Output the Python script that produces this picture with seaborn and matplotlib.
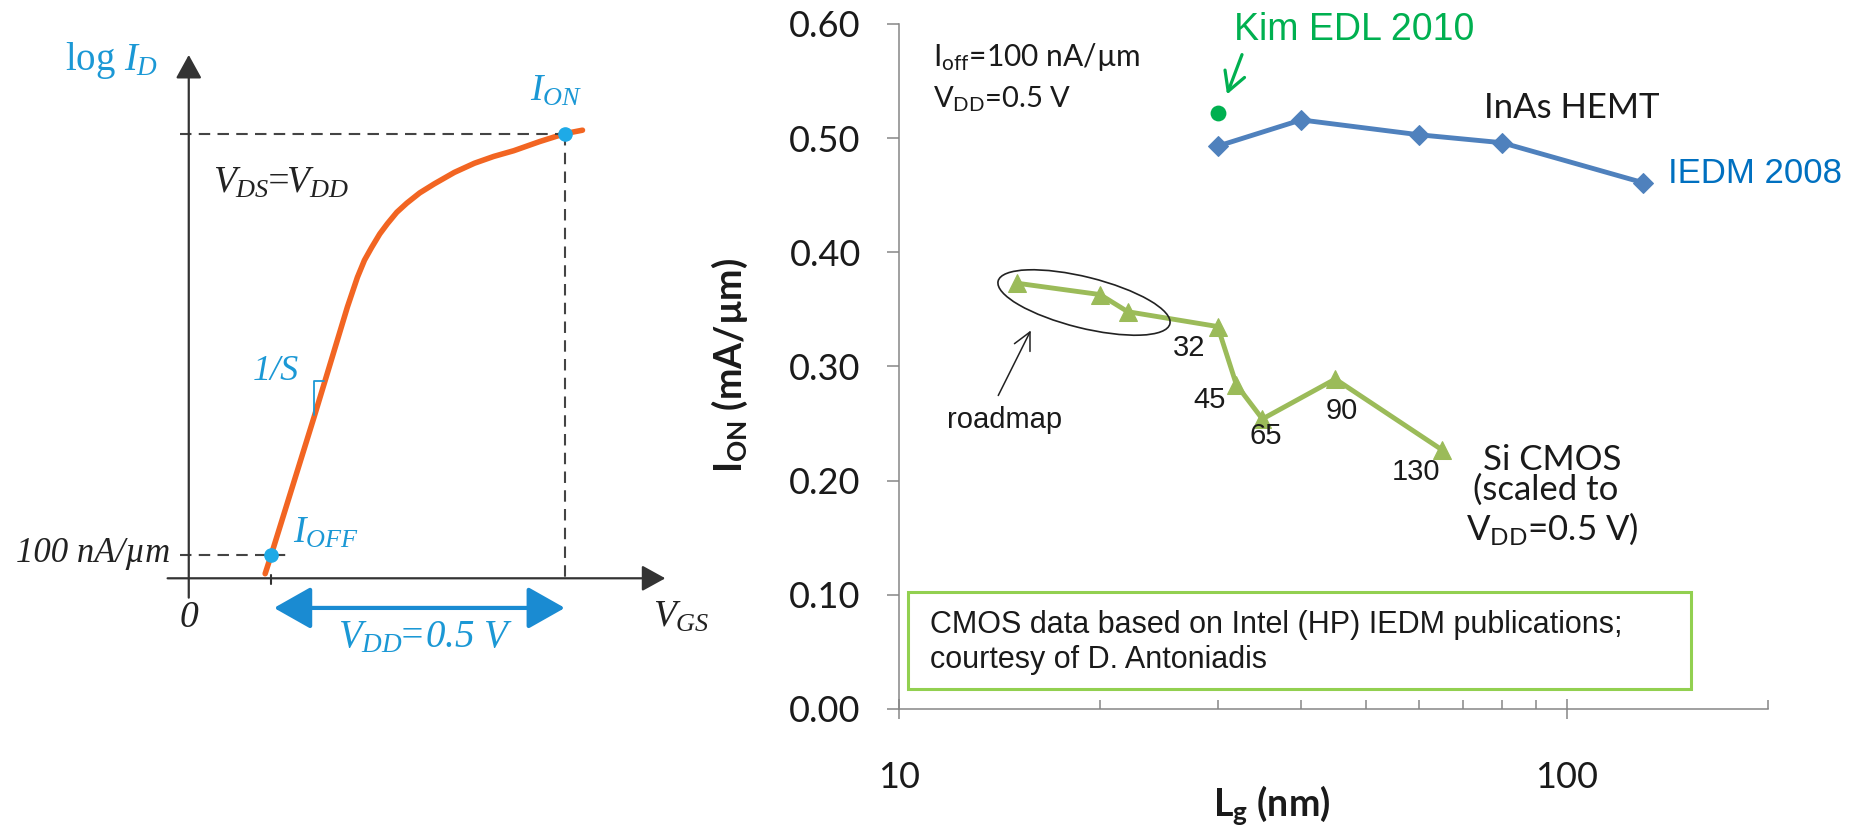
import numpy as np
import seaborn as sns
import matplotlib.pyplot as plt
from matplotlib.patches import Ellipse, Rectangle, FancyArrowPatch
from matplotlib.transforms import IdentityTransform
from matplotlib.ticker import FixedLocator, LogLocator, NullFormatter, FormatStrFormatter, FuncFormatter

# left panel: schematic transfer curve, V_GS (V) against log10 I_D (A/um)
vgs = [0.13, 0.14, 0.213, 0.27, 0.287, 0.299, 0.311, 0.325, 0.338, 0.354, 0.371, 0.393,
       0.418, 0.452, 0.486, 0.519, 0.553, 0.597, 0.64, 0.67]
log_id = [-7.16, -7.0, -5.79, -4.82, -4.56, -4.41, -4.30, -4.18, -4.09, -3.99, -3.91, -3.82,
          -3.74, -3.64, -3.56, -3.50, -3.45, -3.37, -3.3, -3.27]
v_off, v_on = 0.14, 0.64
log_off, log_on = -7.0, -3.3
axis_log = -7.2

# right panel: I_ON (mA/um) against gate length (nm)
hemt_lg = [30, 40, 60, 80, 130]
hemt_ion = [0.493, 0.516, 0.503, 0.496, 0.461]
cmos_lg = [15, 20, 22, 30, 32, 35, 45, 65]
cmos_ion = [0.373, 0.363, 0.348, 0.335, 0.284, 0.254, 0.289, 0.227]
cmos_node = ['', '', '', '32', '45', '65', '90', '130']
node_offset = [(0, 0), (0, 0), (0, 0), (-29, -21), (-27, -15), (3, -17), (6, -32), (-26, -22)]
kim_lg = [30]
kim_ion = [0.522]

W, H = 1870, 831


def fp(x, y):
    # pixel position measured from the top left -> figure fraction
    return x / W, 1 - y / H


sns.set_style('ticks')
plt.rcParams['font.family'] = ['Lato', 'DejaVu Sans']
# math text in the schematic is all italic serif (digits included)
plt.rcParams['mathtext.fontset'] = 'custom'
plt.rcParams['mathtext.rm'] = 'Liberation Serif:italic'
plt.rcParams['mathtext.it'] = 'Liberation Serif:italic'
plt.rcParams['mathtext.bf'] = 'Liberation Serif:bold'

fig = plt.figure(figsize=(W / 100, H / 100), dpi=100)

# ---------------- left schematic ----------------
BLUE_T = '#1b98d5'
SERIF = 'Liberation Serif'
axL = fig.add_axes([130 / W, 1 - 641 / H, 570 / W, 610 / H])
sns.lineplot(x=vgs, y=log_id, ax=axL, color='#F26522', lw=4, estimator=None, sort=False)
axL.set_xlim(-0.1, 0.87)
axL.set_ylim(-7.75, -2.4)
axL.axis('off')

ax_kw = dict(arrowstyle='-|>,head_length=1.45,head_width=0.8', mutation_scale=10,
             color='#333333', lw=1.6, shrinkA=0, shrinkB=0)
axL.annotate('', xy=(0, -2.61), xytext=(0, -7.37), arrowprops=ax_kw)
axL.annotate('', xy=(0.811, axis_log), xytext=(-0.036, axis_log), arrowprops=ax_kw)

dash = dict(color='#444444', lw=1.5, ls=(0, (5.5, 3.5)))
axL.plot([-0.015, v_on], [log_on, log_on], **dash)
axL.plot([v_on, v_on], [log_on, axis_log - 0.05], **dash)
axL.plot([-0.015, v_off + 0.025], [log_off, log_off], **dash)
axL.plot([v_off, v_off], [axis_log + 0.03, axis_log - 0.05], color='#333333', lw=1.5)
axL.plot([v_off, v_on], [log_off, log_on], 'o', ms=9.5, color='#1EAAE7')

axL.annotate('', xy=(v_on, -7.46), xytext=(v_off + 0.005, -7.46),
             arrowprops=dict(arrowstyle='<|-|>,head_length=1.15,head_width=0.65', mutation_scale=20,
                             color='#1A8BD2', lw=3, shrinkA=0, shrinkB=0))

fig.text(*fp(65, 70), r'$\mathregular{log}\ I_D$', fontsize=28, color=BLUE_T, va='baseline', family=SERIF)
fig.text(*fp(530, 101), r'$I_{ON}$', fontsize=27, color=BLUE_T, va='baseline', family=SERIF)
fig.text(*fp(213, 193), r'$V_{DS}\!\!=\!\!V_{DD}$', fontsize=27, color='#222222', va='baseline',
         family=SERIF)
fig.text(*fp(253, 380), '1/S', fontsize=26, color=BLUE_T, va='baseline', family=SERIF, style='italic')
fig.text(*fp(16, 562), '100 nA/µm', fontsize=25, color='#222222', va='baseline', family=SERIF,
         style='italic')
fig.text(*fp(293, 543), r'$I_{OFF}$', fontsize=27, color=BLUE_T, va='baseline', family=SERIF)
fig.text(*fp(189, 627), '0', fontsize=27, color='#222222', va='baseline', ha='center', family=SERIF,
         style='italic')
fig.text(*fp(338, 647), r'$V_{DD}\!\!=\!0.5\ V$', fontsize=28, color=BLUE_T, va='baseline', family=SERIF)
fig.text(*fp(653, 627), r'$V_{GS}$', fontsize=27, color='#222222', va='baseline', family=SERIF)
# slope marker next to 1/S
fig.add_artist(plt.Line2D([324 / W, 313.5 / W, 313.5 / W], [1 - 381 / H, 1 - 381 / H, 1 - 415 / H],
                          color=BLUE_T, lw=1.3))

# ---------------- right chart ----------------
GREY = '#868686'
axR = fig.add_axes([899 / W, 1 - 709 / H, 869 / W, 685 / H])
sns.lineplot(x=cmos_lg, y=cmos_ion, ax=axR, color='#9BBB59', lw=3.5, marker='^', ms=13,
             mec='#9BBB59', estimator=None, sort=False)
sns.lineplot(x=hemt_lg, y=hemt_ion, ax=axR, color='#4F81BD', lw=3.5, marker='D', ms=10,
             mec='#4F81BD', estimator=None, sort=False)
sns.scatterplot(x=kim_lg, y=kim_ion, ax=axR, s=130, color='#00B050', linewidth=0)

axR.set_xscale('log')
axR.set_xlim(10, 200)
axR.set_ylim(0, 0.6)
axR.set_xlabel('')
axR.set_ylabel('')
sns.despine(ax=axR)
for s in ['left', 'bottom']:
    axR.spines[s].set_color(GREY)
    axR.spines[s].set_linewidth(1.1)

axR.yaxis.set_major_locator(FixedLocator(np.arange(0, 0.61, 0.1)))
axR.yaxis.set_major_formatter(FormatStrFormatter('%.2f'))
axR.xaxis.set_major_locator(FixedLocator([10, 100]))
axR.xaxis.set_major_formatter(FuncFormatter(lambda v, p: f'{v:g}'))
axR.xaxis.set_minor_locator(LogLocator(base=10, subs=range(2, 10)))
axR.xaxis.set_minor_formatter(NullFormatter())
axR.tick_params(axis='y', direction='out', length=8.5, width=1.1, color=GREY, pad=19,
                labelsize=26, labelcolor='#1a1a1a')
axR.tick_params(axis='x', which='major', direction='inout', length=15, width=1.1, color=GREY,
                pad=30, labelsize=26, labelcolor='#1a1a1a')
axR.tick_params(axis='x', which='minor', direction='in', length=6.5, width=1.1, color=GREY)

for lg, ion, lab, off in zip(cmos_lg, cmos_ion, cmos_node, node_offset):
    if lab:
        axR.annotate(lab, (lg, ion), xytext=off, textcoords='offset pixels', ha='center',
                     va='center', fontsize=21, family='Liberation Sans', color='#1a1a1a')

fig.text(*fp(730, 365), r'I$_{\mathregular{ON}}$ (mA/µm)', rotation=90, ha='center', va='center',
         fontsize=27, fontweight='bold', color='#1a1a1a')
fig.text(*fp(1272, 806), r'L$_{\mathregular{g}}$ (nm)', ha='center', va='center',
         fontsize=27, fontweight='bold', color='#1a1a1a')

fig.text(*fp(933, 66), r'I$_{\mathregular{off}}$=100 nA/µm', fontsize=21.5, color='#1a1a1a', va='baseline')
fig.text(*fp(933, 108), r'V$_{\mathregular{DD}}$=0.5 V', fontsize=21, color='#1a1a1a', va='baseline')
fig.text(*fp(1234, 40), 'Kim EDL 2010', fontsize=27, color='#00B050', family='Liberation Sans',
         va='baseline')
fig.text(*fp(1484, 118), 'InAs HEMT', fontsize=25, color='#1a1a1a', va='baseline')
fig.text(*fp(1668, 183), 'IEDM 2008', fontsize=25, color='#0070C0', family='Liberation Sans',
         va='baseline')
fig.text(*fp(1552, 470), 'Si CMOS', fontsize=25, color='#1a1a1a', va='baseline', ha='center')
fig.text(*fp(1546, 500), '(scaled to', fontsize=25, color='#1a1a1a', va='baseline', ha='center')
fig.text(*fp(1552, 540), r'V$_{\mathregular{DD}}$=0.5 V)', fontsize=25, color='#1a1a1a',
         va='baseline', ha='center')
fig.text(*fp(947, 428), 'roadmap', fontsize=21, color='#1a1a1a', family='Liberation Sans',
         va='baseline')

fig.add_artist(Rectangle(fp(908, 689), 783 / W, 97 / H, transform=fig.transFigure, fill=False,
                         ec='#92D050', lw=2.2))
fig.text(*fp(930, 633), 'CMOS data based on Intel (HP) IEDM publications;', fontsize=22,
         family='Liberation Sans', color='#1a1a1a', va='baseline')
fig.text(*fp(930, 668), 'courtesy of D. Antoniadis', fontsize=22,
         family='Liberation Sans', color='#1a1a1a', va='baseline')

fig.add_artist(Ellipse((1084, H - 302.5), 177, 51, angle=-14, transform=IdentityTransform(),
                       fill=False, ec='#222222', lw=1.2))
fig.add_artist(FancyArrowPatch(fp(997, 398), fp(1032, 328), transform=fig.transFigure,
                               arrowstyle='->,head_length=0.5,head_width=0.25', mutation_scale=25,
                               lw=1.1, color='#222222'))
fig.add_artist(FancyArrowPatch(fp(1243, 52), fp(1226, 97), transform=fig.transFigure,
                               arrowstyle='->,head_length=0.45,head_width=0.25', mutation_scale=30,
                               lw=2.3, color='#00B050'))

fig.savefig('out.png', dpi=100, facecolor='white')
